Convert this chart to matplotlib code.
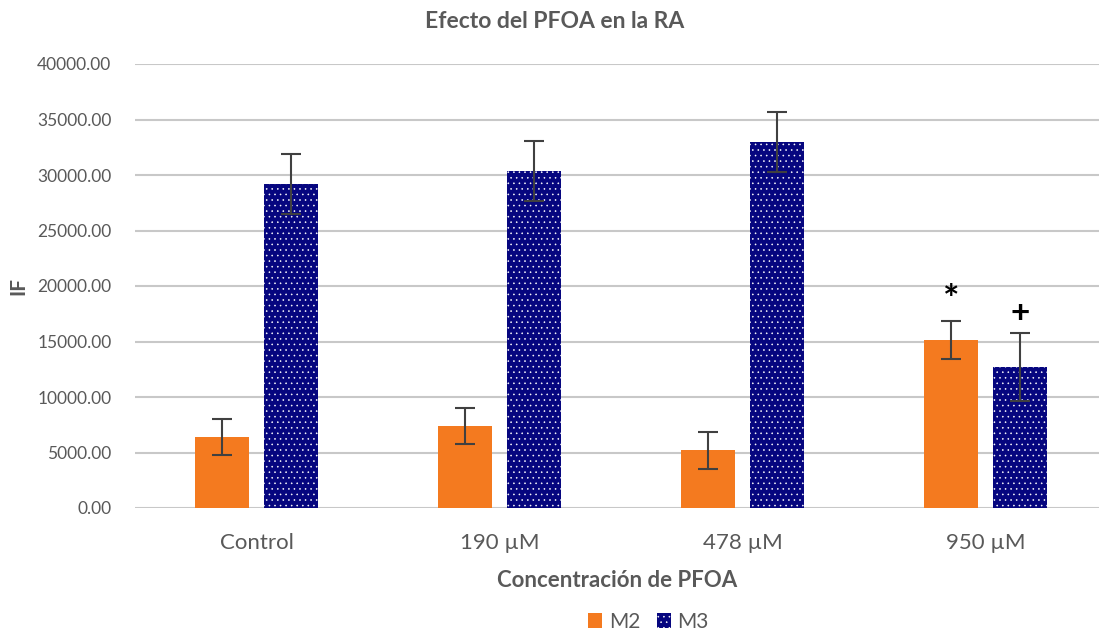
import matplotlib.pyplot as plt
import numpy as np

plt.rcParams['font.family'] = ['Lato', 'DejaVu Sans']
plt.rcParams['hatch.color'] = 'white'
plt.rcParams['hatch.linewidth'] = 0.4

categories = ['Control', '190 µM', '478 µM', '950 µM']
m2 = [6400, 7400, 5200, 15150]
m2_err = [1650, 1650, 1650, 1700]
m3 = [29200, 30350, 32950, 12700]
m3_err = [2700, 2700, 2700, 3100]
marks = ['*', '+']

orange = '#F47A1F'
navy = '#06067F'
grey = '#595959'

fig = plt.figure(figsize=(10.99, 6.39), dpi=100)
ax = fig.add_axes([135/1099, 1 - 508/639, 1 - 135/1099, (508 - 64)/639])

x = np.arange(len(categories))
w = 0.225
off = 0.142

ax.bar(x - off, m2, w, color=orange, zorder=2, label='M2')
ax.bar(x + off, m3, w, color=navy, hatch='...', edgecolor='white', linewidth=0, zorder=2, label='M3')
ax.errorbar(x - off, m2, yerr=m2_err, fmt='none', ecolor='#404040', elinewidth=1.5, capsize=7, capthick=1.5, zorder=3)
ax.errorbar(x + off, m3, yerr=m3_err, fmt='none', ecolor='#404040', elinewidth=1.5, capsize=7, capthick=1.5, zorder=3)

# significance marks on the last group
ax.text(x[3] - off, m2[3] + m2_err[3] + 300, marks[0], ha='center', va='bottom', fontsize=28, fontweight='bold', color='black')
ax.text(x[3] + off, m3[3] + m3_err[3] + 400, marks[1], ha='center', va='bottom', fontsize=24, fontweight='bold', color='black')

ax.set_ylim(0, 40000)
ax.set_xlim(-0.5, 3.467)
ax.set_yticks(np.arange(0, 40001, 5000))
ax.set_yticklabels([f'{v:.2f}' for v in np.arange(0, 40001, 5000)])
ax.set_xticks(x)
ax.set_xticklabels(categories)
ax.grid(axis='y', color='#C8C8C8', linewidth=1.5, zorder=0)
ax.set_axisbelow(True)
for s in ax.spines.values():
    s.set_visible(False)
ax.tick_params(axis='y', length=0, labelsize=12.5, labelcolor=grey, pad=17)
ax.tick_params(axis='x', length=0, labelsize=16, labelcolor=grey, pad=18)

ax.set_ylabel('IF', fontsize=15, fontweight='bold', color=grey, labelpad=6)
ax.set_xlabel('Concentración de PFOA', fontsize=16, fontweight='bold', color=grey, labelpad=12)
fig.text(0.505, 1 - 22/639, 'Efecto del PFOA en la RA', ha='center', va='center',
         fontsize=16.5, fontweight='bold', color=grey)

fig.legend(loc='lower center', bbox_to_anchor=(0.59, -0.018), ncol=2, frameon=False,
           fontsize=15, labelcolor=grey, handlelength=0.7, handleheight=0.7,
           handletextpad=0.3, columnspacing=0.8)

fig.savefig('out.png', dpi=100)
